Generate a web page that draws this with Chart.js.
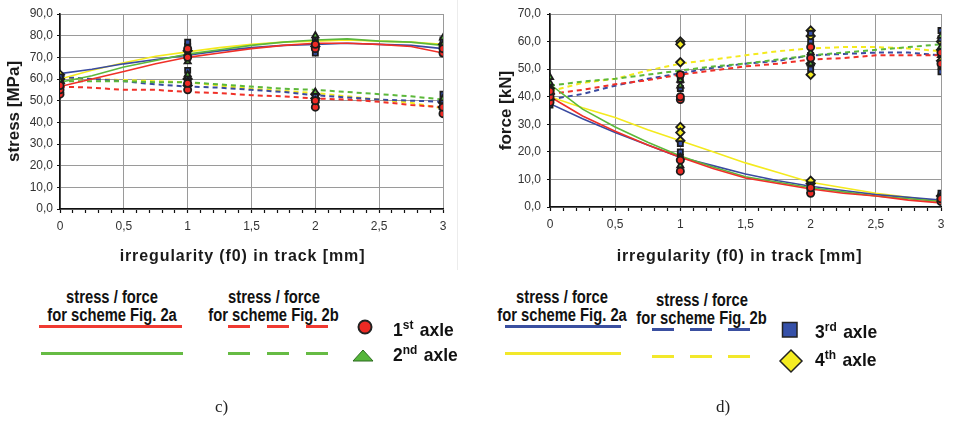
<!DOCTYPE html>
<html><head><meta charset="utf-8">
<script src="https://cdn.jsdelivr.net/npm/chart.js@4.4.1/dist/chart.umd.min.js"></script>
<style>
html,body{margin:0;padding:0;background:#fff;width:954px;height:422px;overflow:hidden;position:relative;font-family:"Liberation Sans",Arial,sans-serif;}
canvas{position:absolute;top:0;}
#c1{left:0;} #c2{left:480px;}
.hdr{position:absolute;font-family:"Liberation Sans Narrow","Arial Narrow","Liberation Sans",sans-serif;font-weight:bold;font-size:18px;line-height:17.5px;text-align:center;color:#111;white-space:nowrap;}
.hdr span{display:inline-block;transform:scaleX(0.82);}
.ln{position:absolute;height:3px;}
.axl{position:absolute;font-family:"Liberation Sans Narrow","Arial Narrow","Liberation Sans",sans-serif;font-weight:bold;font-size:19px;line-height:18px;color:#111;white-space:nowrap;transform:scaleX(0.92);transform-origin:0 50%;}
.axl .sp{font-size:13px;position:relative;top:-7px;margin-right:7px;}
.cap{position:absolute;font-family:"Liberation Serif","Times New Roman",serif;font-size:17px;line-height:20px;color:#222;}
svg{position:absolute;overflow:visible;}
</style></head>
<body>
<canvas id="c1" width="470" height="270" style="width:470px;height:270px"></canvas>
<canvas id="c2" width="474" height="270" style="width:474px;height:270px"></canvas>
<div style="position:absolute;left:457px;top:0;width:1px;height:270px;background:#ececec"></div>

<div class="hdr" style="left:22px;top:289px;width:180px"><span>stress / force</span><br><span>for scheme Fig. 2a</span></div>
<div class="hdr" style="left:184px;top:289px;width:180px"><span>stress / force</span><br><span>for scheme Fig. 2b</span></div>
<div class="hdr" style="left:472px;top:289px;width:180px"><span>stress / force</span><br><span>for scheme Fig. 2a</span></div>
<div class="hdr" style="left:612px;top:292px;width:180px"><span>stress / force</span><br><span>for scheme Fig. 2b</span></div>

<div class="ln" style="left:39px;top:325px;width:143px;background:#f03a32"></div>
<div class="ln" style="left:41px;top:352px;width:142px;background:#66bb44"></div>
<div class="ln" style="left:228px;top:325px;width:100px;background:repeating-linear-gradient(to right,#f03a32 0 22px,transparent 22px 39px)"></div>
<div class="ln" style="left:228px;top:352px;width:100px;background:repeating-linear-gradient(to right,#66bb44 0 22px,transparent 22px 39px)"></div>
<div class="ln" style="left:505px;top:325px;width:116px;background:#3a4fa0"></div>
<div class="ln" style="left:505px;top:352px;width:116px;background:#f2e82a"></div>
<div class="ln" style="left:652px;top:328px;width:100px;background:repeating-linear-gradient(to right,#3a4fa0 0 22px,transparent 22px 38px)"></div>
<div class="ln" style="left:652px;top:355px;width:100px;background:repeating-linear-gradient(to right,#f2e82a 0 22px,transparent 22px 38px)"></div>

<svg style="left:0;top:0" width="954" height="422">
  <circle cx="365" cy="327" r="6.5" fill="#ee2a24" stroke="#222" stroke-width="2"/>
  <polygon points="353,361 373,361 363,350" fill="#55b63a" stroke="#2d6b20" stroke-width="1"/>
  <rect x="782.5" y="322.5" width="14.5" height="14.5" fill="#3550a8" stroke="#222" stroke-width="1.5"/>
  <polygon points="791,350 802,361 791,372 780,361" fill="#f4ec22" stroke="#222" stroke-width="1.5"/>
</svg>

<div class="axl" style="left:393px;top:321px">1<span class="sp">st</span>axle</div>
<div class="axl" style="left:393px;top:346px">2<span class="sp">nd</span>axle</div>
<div class="axl" style="left:815px;top:323px">3<span class="sp">rd</span>axle</div>
<div class="axl" style="left:815px;top:351px">4<span class="sp">th</span>axle</div>

<div class="cap" style="left:215px;top:397px">c)</div>
<div class="cap" style="left:716px;top:397px">d)</div>

<script>
// ---------- shared x positions of the computed curves [mm]
const X = [0, 0.25, 0.5, 0.75, 1, 1.25, 1.5, 1.75, 2, 2.25, 2.5, 2.75, 3];
// x positions of measured points
const XP = [0, 1, 2, 3];

// ---------- panel c) stress [MPa]; A = scheme Fig. 2a (solid), B = scheme Fig. 2b (dashed)
const stressA1 = [56.5, 60, 63.5, 67, 70, 72, 74, 75.5, 76.5, 76.5, 76, 75, 72];
const stressA2 = [58.5, 61.5, 65.5, 68.5, 71.5, 73.5, 75.5, 77, 78, 78.5, 77.5, 77, 75.5];
const stressA3 = [62.5, 64.5, 67, 69, 71, 73, 74.5, 75.5, 76, 76.5, 76, 75.5, 74];
const stressA4 = [60, 64, 67.5, 70.5, 72.5, 74.5, 76, 77, 77.5, 78, 77.5, 77, 76];
const stressB1 = [56.5, 56, 55, 55, 54, 53.5, 52.5, 52, 51, 50.5, 49.5, 48, 47];
const stressB2 = [59, 59, 59, 58.5, 58.5, 57.5, 56.5, 55.5, 55, 54, 53, 52, 50.5];
const stressB3 = [61, 60, 59, 57.5, 56.5, 56, 55, 54, 52.5, 51.5, 50.5, 50, 49.5];
const stressB4 = [60.5, 60, 59.5, 59, 58.5, 57, 55.5, 54.5, 53.5, 52, 50.5, 49, 46.5];
// measured stress points per axle, grouped by XP
const stressPts1 = [[53, 55, 57], [70, 74, 55, 58], [74, 76, 47, 50], [72, 74, 44, 47]];
const stressPts2 = [[55, 57, 59], [68, 72, 59, 62], [77, 80, 50, 54], [76, 79, 47, 51]];
const stressPts3 = [[54, 58, 61], [70, 75, 77, 56, 60, 64], [72, 75, 78, 48, 52], [72, 75, 78, 45, 50, 53]];
const stressPts4 = [[58, 60, 62], [73, 57, 60], [75, 51, 53], [76, 47, 49]];

// ---------- panel d) force [kN]
const forceA1 = [40, 33, 27.5, 22.5, 18, 14, 10.5, 8.5, 6.5, 5, 4, 2.5, 1.5];
const forceA2 = [44.5, 35.5, 29, 23.5, 18.5, 14.5, 11, 9, 7, 5.5, 4, 3, 2];
const forceA3 = [37.5, 32, 27, 22.5, 18, 15, 12, 9.5, 7.5, 6, 4.5, 3.5, 2.5];
const forceA4 = [40, 36, 32.5, 28, 24, 20, 16, 12.5, 9, 7, 5, 3.5, 2];
const forceB1 = [41, 42.5, 44.5, 46, 48, 49.5, 51, 52, 53.5, 54, 55, 55, 55];
const forceB2 = [44, 45.5, 46.5, 48, 49.5, 51, 52, 53.5, 55, 56, 57, 58, 59];
const forceB3 = [39, 41, 44, 46.5, 48.5, 50.5, 52, 53, 55, 55.5, 56, 56, 55];
const forceB4 = [42, 45, 46.5, 49.5, 52, 53.5, 55, 56.5, 57.5, 58, 58, 57.5, 56.5];
const forcePts1 = [[38, 40, 42], [39, 40, 48, 13, 17], [54, 58, 5, 7], [52, 56, 2, 3]];
const forcePts2 = [[43, 45, 47], [44, 46, 15, 18], [52, 56, 6, 7], [55, 58, 62, 3, 4]];
const forcePts3 = [[37, 39, 41], [43, 46, 48, 18, 20, 23], [50, 55, 60, 63, 6, 8], [49, 51, 61, 64, 4, 5]];
const forcePts4 = [[39, 41, 43], [60, 59, 52.5, 29, 27, 24], [64, 62, 52, 48, 8.5, 9.5], [57, 53, 60, 4]];

// ---------- tick labels
const stressTicks = [0, 10, 20, 30, 40, 50, 60, 70, 80, 90];
const forceTicks = [0, 10, 20, 30, 40, 50, 60, 70];

const COL = { r: '#f03028', g: '#5cb83a', b: '#3a4aa0', y: '#f4ea1e' };
const MARK = [
  { c: '#ee2a24', s: 'circle' },
  { c: '#55b63a', s: 'triangle' },
  { c: '#3550a8', s: 'rect' },
  { c: '#f4ec22', s: 'rectRot' }
];

function lineDs(arr, color, dashed) {
  return {
    type: 'scatter', showLine: true, order: 2,
    data: X.map((x, i) => ({ x: x, y: arr[i] })),
    borderColor: color, backgroundColor: color,
    borderWidth: dashed ? 2 : 1.6, borderDash: dashed ? [5, 4] : [],
    pointRadius: 0, tension: 0
  };
}
function ptsDs(groups, m) {
  const d = [];
  groups.forEach((g, i) => g.forEach(v => d.push({ x: XP[i], y: v })));
  return {
    type: 'scatter', order: 1, data: d,
    pointStyle: m.s, backgroundColor: m.c, borderColor: '#1c1c1c',
    borderWidth: 1.8, pointRadius: m.s === 'rectRot' ? 4.2 : 3.6
  };
}
const half = v => Math.abs(v * 2 - Math.round(v * 2)) < 1e-6;
const fmtX = v => half(v) ? String(Math.round(v * 2) / 2).replace('.', ',') : '';

function titleShift(dx) {
  return {
    id: 'titleShift',
    afterLayout(chart) {
      const s = chart.scales.x;
      if (s && !s.__ls) {
        const orig = s.drawTitle;
        s.drawTitle = function () {
          this.ctx.save(); this.ctx.letterSpacing = '0.9px'; this.ctx.translate(dx, 0);
          orig.apply(this, arguments); this.ctx.restore();
        };
        s.__ls = true;
      }
    }
  };
}

function makeChart(id, datasets, ticksArr, yTitle, o) {
  const yMax = ticksArr[ticksArr.length - 1];
  return new Chart(document.getElementById(id), {
    type: 'scatter',
    data: { datasets: datasets },
    plugins: [titleShift(o.titleDx)],
    options: {
      responsive: false, animation: false, devicePixelRatio: 1,
      layout: { padding: { top: 14, right: o.padR, left: 0, bottom: 0 } },
      plugins: { legend: { display: false }, tooltip: { enabled: false } },
      scales: {
        x: {
          type: 'linear', min: 0, max: 3,
          afterFit: s => { s.height = o.xH; },
          ticks: { stepSize: 0.1, autoSkip: false, maxRotation: 0, padding: 6,
            color: '#333', font: { family: 'Liberation Sans', size: 12 }, callback: v => fmtX(v) },
          grid: { color: c => half(c.tick.value) ? '#9a9a9a' : 'rgba(0,0,0,0)', lineWidth: 1,
            tickColor: '#111', tickLength: 4, tickWidth: 1.2 },
          border: { color: '#111', width: 1.6 },
          title: { display: true, text: 'irregularity (f0) in track [mm]', color: '#1a1a1a',
            font: { family: 'Liberation Sans', size: 16, weight: 'bold' }, padding: { top: 0, bottom: 3.5 } }
        },
        y: {
          type: 'linear', min: 0, max: yMax,
          afterFit: s => { s.width = o.yW; },
          afterBuildTicks: s => { s.ticks = ticksArr.map(v => ({ value: v })); },
          ticks: { padding: o.tickPad, color: '#333', font: { family: 'Liberation Sans', size: 12 },
            callback: v => v.toFixed(1).replace('.', ',') },
          grid: { color: '#9a9a9a', lineWidth: 1, tickColor: '#111', tickLength: 3 },
          border: { color: '#111', width: 1.6 },
          title: { display: true, text: yTitle, color: '#1a1a1a',
            font: { family: 'Liberation Sans', size: 17, weight: 'bold' }, padding: { top: o.yTitlePad, bottom: 0 } }
        }
      }
    }
  });
}

makeChart('c1', [
  lineDs(stressA1, COL.r, false), lineDs(stressA2, COL.g, false),
  lineDs(stressA3, COL.b, false), lineDs(stressA4, COL.y, false),
  lineDs(stressB1, COL.r, true), lineDs(stressB2, COL.g, true),
  lineDs(stressB3, COL.b, true), lineDs(stressB4, COL.y, true),
  ptsDs(stressPts1, MARK[0]), ptsDs(stressPts2, MARK[1]),
  ptsDs(stressPts3, MARK[2]), ptsDs(stressPts4, MARK[3])
], stressTicks, 'stress [MPa]', { padR: 27, xH: 61, yW: 60, tickPad: 4, yTitlePad: 4.3, titleDx: -9 });

makeChart('c2', [
  lineDs(forceA1, COL.r, false), lineDs(forceA2, COL.g, false),
  lineDs(forceA3, COL.b, false), lineDs(forceA4, COL.y, false),
  lineDs(forceB1, COL.r, true), lineDs(forceB2, COL.g, true),
  lineDs(forceB3, COL.b, true), lineDs(forceB4, COL.y, true),
  ptsDs(forcePts1, MARK[0]), ptsDs(forcePts2, MARK[1]),
  ptsDs(forcePts3, MARK[2]), ptsDs(forcePts4, MARK[3])
], forceTicks, 'force [kN]', { padR: 13, xH: 63, yW: 70, tickPad: 6, yTitlePad: 15.8, titleDx: -6 });
</script>
</body></html>
